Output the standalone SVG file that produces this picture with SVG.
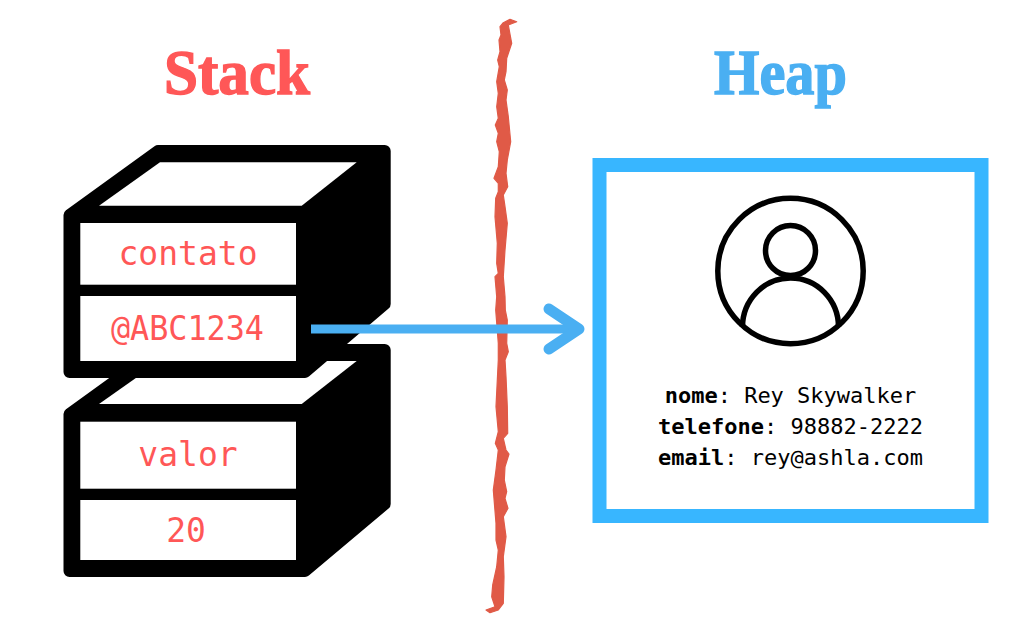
<svg xmlns="http://www.w3.org/2000/svg" width="1028" height="632" viewBox="0 0 1028 632">
<style>
.title{font-family:"Liberation Serif","DejaVu Serif",serif;font-weight:700;font-size:64px;text-anchor:middle;stroke-width:1.4px;paint-order:stroke}
.shell{fill:#000;stroke:#000;stroke-width:12;stroke-linejoin:round}
.face{fill:#fff}
.cell{font-family:"DejaVu Sans Mono","Liberation Mono",monospace;font-size:33px;fill:#ff5757;text-anchor:middle}
.info{font-family:"DejaVu Sans Mono","Liberation Mono",monospace;font-size:22px;fill:#000;text-anchor:middle}
.info .k{font-weight:700}
.icon{fill:none;stroke:#000;stroke-width:5.5}
.arrow{fill:none;stroke:#4aaff2;stroke-linecap:round;stroke-linejoin:round}
</style>
<rect width="1028" height="632" fill="#fff"/>
<text id="title-stack" class="title" x="237" y="94" fill="#ff5757" stroke="#ff5757" textLength="146" lengthAdjust="spacingAndGlyphs">Stack</text>
<text id="title-heap" class="title" x="780.5" y="94" fill="#4aaff2" stroke="#4aaff2" textLength="133" lengthAdjust="spacingAndGlyphs">Heap</text>
<path id="divider" fill="#e05a47" stroke="#e05a47" stroke-width="1.2" stroke-linejoin="round" d="M516.7 21.7L508.3 25L511.7 43.3L506.7 58.3L506 71.7L504.3 80L507.3 90L506 100L508.3 116.7L510.7 141.7L507.3 160L506 173.3L507.7 186.7L503.3 195L505 206.7L507.3 223.3L505 250L503.3 276.7L505 296.7L505.3 310L507.3 320L506.7 343.3L508.3 351.7L505 360L506 376.7L507.3 406.7L507.7 433.3L503.3 438.3L506 450L509 454L505 466.7L504.3 480L506.7 491.7L505 498.3L508 508.3L503.3 516.7L506 536.7L503.3 556.7L504 576.7L503.3 603.3L498.3 610L490 612.7L486 610L495 606.7L491.7 596.7L492.7 585L496.7 566.7L498.3 550L496 540L496 523.3L493.3 490L496 470L498.3 450L495.3 443.3L498.3 431.7L496 406.7L498.3 360L498.3 343.3L495.7 310L496.7 296.7L495 276.7L498.3 273.3L496.7 263.3L497.3 243.3L495 216.7L495.7 198.3L498.3 191.7L498.3 183.3L494 178.3L498.3 166.7L499.3 151.7L496.7 141.7L498.3 133.3L495.3 125L498.3 118.3L496.7 106.7L498.3 93.3L496.7 81.7L499.3 66.7L497.7 60L500 51.7L499 40L501 35L500 26.7L503.3 22.7L510 19.3Z"/>
<g id="stack-valor">
<path class="shell" d="M69.5 414L158 350H384.7V504L305 571H69.5Z"/>
<path class="face" d="M99 404L160 361H356.7L301.7 404Z"/>
<rect class="face" x="80.3" y="421.7" width="215.7" height="67"/>
<rect class="face" x="80.3" y="500" width="215.7" height="60"/>
<text class="cell" x="188" y="465.5">valor</text>
<text class="cell" x="186" y="542">20</text>
</g>
<g id="stack-contato">
<path class="shell" d="M69.5 215L158 151H384.7V304L305 372H69.5Z"/>
<path class="face" d="M99 205.7L160 162.3H356.7L301.7 205.7Z"/>
<rect class="face" x="80.3" y="223" width="215.7" height="61.7"/>
<rect class="face" x="80.3" y="296" width="215.7" height="65"/>
<text class="cell" x="188" y="264.5">contato</text>
<text class="cell" x="187.5" y="340" textLength="153" lengthAdjust="spacingAndGlyphs">@ABC1234</text>
</g>
<g id="heap-object">
<rect x="599.5" y="165" width="382" height="351" fill="#fff" stroke="#38b6ff" stroke-width="14"/>
<circle class="icon" cx="790.5" cy="271" r="72.7"/>
<circle class="icon" cx="790.5" cy="250.6" r="25"/>
<path class="icon" d="M742.5 327A48 49 0 0 1 838.5 327"/>
<text class="info" x="790.5" y="403"><tspan class="k">nome</tspan>: Rey Skywalker</text>
<text class="info" x="790.5" y="434"><tspan class="k">telefone</tspan>: 98882-2222</text>
<text class="info" x="790.5" y="465"><tspan class="k">email</tspan>: rey@ashla.com</text>
</g>
<g id="connectors">
<path class="arrow" stroke-width="9" style="stroke-linecap:butt" d="M311 329H578"/>
<path class="arrow" stroke-width="11" d="M549 309L579 329L549 349"/>
</g>
</svg>
